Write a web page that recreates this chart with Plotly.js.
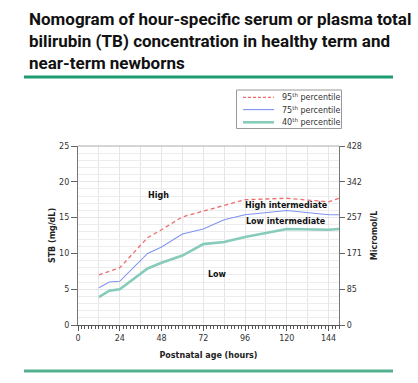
<!DOCTYPE html>
<html>
<head>
<meta charset="utf-8">
<script src="https://cdn.plot.ly/plotly-3.0.1.min.js"></script>
<style>
html,body{margin:0;padding:0;background:#fff;}
#chart{width:418px;height:383px;}
</style>
</head>
<body>
<div id="chart"></div>
<script>
const hours = [12, 18, 24, 40, 48, 60, 72, 84, 96, 120, 144, 150];
const p95 = [7.0, 7.5, 8.0, 12.2, 13.3, 15.1, 15.9, 16.8, 17.5, 17.7, 17.2, 17.7];
const p75 = [5.2, 6.0, 6.1, 10.0, 10.9, 12.7, 13.4, 14.7, 15.4, 16.0, 15.4, 15.4];
const p40 = [3.9, 4.8, 5.0, 7.9, 8.7, 9.7, 11.3, 11.6, 12.3, 13.4, 13.3, 13.4];
const seriesNames = ['95<sup>th</sup> percentile', '75<sup>th</sup> percentile', '40<sup>th</sup> percentile'];
const seriesColors = ['#f06a6a', '#7f95f0', '#86cbbb'];
const seriesWidths = [1.3, 1.1, 2.6];
const seriesDash = ['4px,3px', 'solid', 'solid'];
const xTickVals = [0, 24, 48, 72, 96, 120, 144];
const yTickVals = [0, 5, 10, 15, 20, 25];
const microTickText = ['0', '85', '171', '257', '342', '428'];
const zoneLabels = ['High', 'High intermediate', 'Low intermediate', 'Low'];
const zoneX = [46, 120, 119.5, 80];
const zoneY = [18.1, 16.7, 14.5, 7.0];

const tickFont = {family: 'DejaVu Sans', size: 8, color: '#333'};
const titleFont = {family: 'DejaVu Sans', size: 8, color: '#222', weight: 'bold'};

// pixel -> paper helpers (plot area: x 78..339, y 146..325)
const PL = 78, PW = 261, PB = 325, PH = 179;
const px = v => (v - PL) / PW;
const py = v => (PB - v) / PH;

const seriesY = [p95, p75, p40];
const traces = seriesY.map((ys, i) => ({
  x: hours, y: ys, name: seriesNames[i], type: 'scatter', mode: 'lines',
  showlegend: false,
  line: {color: seriesColors[i], width: seriesWidths[i], dash: seriesDash[i]}
}));
// empty trace so the secondary axes are drawn
traces.push({x: [], y: [], xaxis: 'x2', yaxis: 'y2', type: 'scatter', mode: 'lines', showlegend: false, hoverinfo: 'skip'});

const annotations = zoneLabels.map((t, i) => ({
  x: zoneX[i], y: zoneY[i], xref: 'x', yref: 'y', text: t, showarrow: false,
  font: {family: 'DejaVu Sans', size: 8, color: '#111', weight: 'bold'}
}));

// hand-built legend (compact rows like the reference)
const legendRowY = [97.3, 109.6, 122.3];
const shapes = [
  {type: 'line', xref: 'paper', yref: 'paper', x0: 0, x1: 1, y0: 1, y1: 1,
   line: {color: '#aaa', width: 1}},
  {type: 'line', xref: 'paper', yref: 'paper', x0: px(24), x1: px(393),
   y0: py(77), y1: py(77), line: {color: '#1c9c70', width: 3}},
  {type: 'line', xref: 'paper', yref: 'paper', x0: px(24), x1: px(393),
   y0: py(371), y1: py(371), line: {color: '#55b28e', width: 3}},
  {type: 'rect', xref: 'paper', yref: 'paper', x0: px(236.5), x1: px(341.5),
   y0: py(90), y1: py(128.5), fillcolor: '#fff', line: {color: '#999', width: 1}}
];
seriesNames.forEach((n, i) => {
  shapes.push({type: 'line', xref: 'paper', yref: 'paper', x0: px(243), x1: px(274),
    y0: py(legendRowY[i]), y1: py(legendRowY[i]),
    line: {color: seriesColors[i], width: seriesWidths[i], dash: seriesDash[i] === 'solid' ? 'solid' : '3px,2px'}});
  annotations.push({xref: 'paper', yref: 'paper', x: px(280), y: py(legendRowY[i]),
    xanchor: 'left', yanchor: 'middle', text: n, showarrow: false,
    font: {family: 'DejaVu Sans', size: 8, color: '#333'}});
});

const layout = {
  width: 418, height: 383,
  margin: {l: 78, r: 79, t: 146, b: 58, pad: 0},
  paper_bgcolor: '#fff', plot_bgcolor: '#fff',
  showlegend: false,
  title: {
    text: 'Nomogram of hour-specific serum or plasma total<br>bilirubin (TB) concentration in healthy term and<br>near-term newborns',
    xref: 'container', yref: 'container', x: 29/418, xanchor: 'left', y: 1 - 25/383, yanchor: 'top',
    font: {family: 'Roboto', size: 17, color: '#111', weight: 'bold'}
  },
  xaxis: {
    range: [0, 150], tickmode: 'array', tickvals: xTickVals,
    showgrid: true, gridcolor: '#e6e6e6', gridwidth: 1,
    ticks: 'outside', ticklen: 5, tickcolor: '#555', tickwidth: 1,
    showline: true, linecolor: '#555', linewidth: 1, zeroline: false,
    tickfont: tickFont,
    minor: {dtick: 12, tick0: 0, ticks: '', showgrid: true, gridcolor: '#e6e6e6'},
    title: {text: 'Postnatal age (hours)', font: titleFont, standoff: 10}
  },
  xaxis2: {
    overlaying: 'x', side: 'bottom', range: [0, 150], dtick: 2, tick0: 0,
    ticks: 'outside', ticklen: 3, tickcolor: '#555', tickwidth: 1,
    showticklabels: false, showgrid: false, zeroline: false, showline: false
  },
  yaxis: {
    range: [0, 25], tickmode: 'array', tickvals: yTickVals,
    showgrid: true, gridcolor: '#e6e6e6', gridwidth: 1,
    ticks: 'outside', ticklen: 6, tickcolor: '#666',
    showline: true, linecolor: '#777', linewidth: 1.2, zeroline: false,
    tickfont: tickFont,
    minor: {dtick: 1, showgrid: true, gridcolor: '#ededed', ticks: ''},
    title: {text: 'STB (mg/dL)', font: titleFont, standoff: 2}
  },
  yaxis2: {
    overlaying: 'y', side: 'right', range: [0, 25], tickmode: 'array',
    tickvals: yTickVals, ticktext: microTickText,
    showgrid: false, zeroline: false,
    ticks: 'outside', ticklen: 5, tickcolor: '#666',
    showline: true, linecolor: '#777', linewidth: 1.2,
    tickfont: tickFont,
    title: {text: 'Micromol/L', font: titleFont, standoff: 10}
  },
  annotations: annotations,
  shapes: shapes
};

Plotly.newPlot('chart', traces, layout, {displayModeBar: false, responsive: false});
</script>
</body>
</html>
